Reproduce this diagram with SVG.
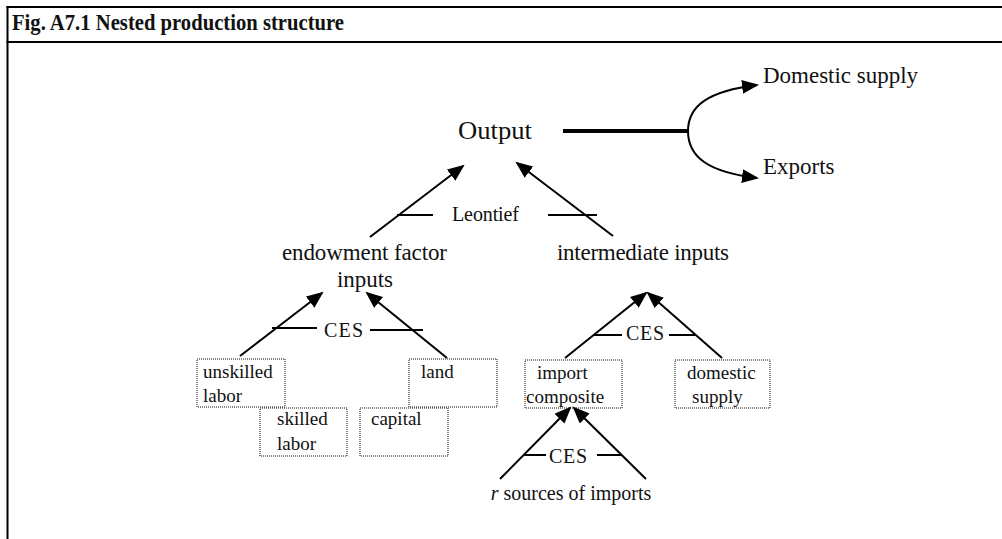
<svg xmlns="http://www.w3.org/2000/svg" width="1002" height="539" viewBox="0 0 1002 539">
<style>
text{font-family:"Liberation Serif","Times New Roman",serif;fill:#111}
.t{font-size:23px}
.s{font-size:20px}
.b{font-size:19px}
.ln{stroke:#000;stroke-width:2;fill:none}
.ar{stroke:#000;stroke-width:2;fill:none;marker-end:url(#ah)}
.box{fill:none;stroke:#111;stroke-width:1;stroke-dasharray:1 1}
</style>
<defs>
<marker id="ah" markerUnits="userSpaceOnUse" markerWidth="19" markerHeight="15" refX="15" refY="7" orient="auto">
<path d="M0,0 L17,7 L0,14 z" fill="#000"/>
</marker>
</defs>
<rect width="1002" height="539" fill="#fff"/>
<g id="frame">
<line x1="7.5" y1="6" x2="7.5" y2="539" stroke="#000" stroke-width="2"/>
<line x1="6.5" y1="7" x2="1002" y2="7" stroke="#000" stroke-width="2"/>
<line x1="6.5" y1="42" x2="1002" y2="42" stroke="#000" stroke-width="2"/>
<text x="12" y="30" font-size="22.5" font-weight="bold" textLength="332" lengthAdjust="spacingAndGlyphs">Fig. A7.1 Nested production structure</text>
</g>
<g id="connectors">
<line x1="563" y1="131" x2="688" y2="131" stroke="#000" stroke-width="4"/>
<path class="ar" d="M688,131 C688,106 708,91 757,85"/>
<path class="ar" d="M688,131 C688,157 708,172 757,178"/>
<line class="ar" x1="370" y1="237" x2="463" y2="166"/>
<line class="ar" x1="613" y1="236" x2="517" y2="163"/>
<line class="ar" x1="240" y1="356" x2="322" y2="293"/>
<line class="ar" x1="447" y1="358" x2="367" y2="293"/>
<line class="ar" x1="565" y1="358" x2="646" y2="293"/>
<line class="ar" x1="722" y1="358" x2="648" y2="293"/>
<line class="ar" x1="500" y1="479" x2="570" y2="408"/>
<line class="ar" x1="646" y1="479" x2="574" y2="408"/>
<line class="ln" x1="397" y1="215" x2="433" y2="215"/>
<line class="ln" x1="548" y1="215" x2="597" y2="215"/>
<line class="ln" x1="272" y1="328" x2="317" y2="328"/>
<line class="ln" x1="370" y1="330" x2="423" y2="330"/>
<line class="ln" x1="594" y1="335" x2="622" y2="335"/>
<line class="ln" x1="669" y1="335" x2="695" y2="335"/>
<line class="ln" x1="523" y1="455" x2="546" y2="455"/>
<line class="ln" x1="597" y1="455" x2="622" y2="455"/>
</g>
<g id="output"><text x="458" y="139" font-size="25" textLength="74" lengthAdjust="spacingAndGlyphs">Output</text></g>
<g id="domestic-supply-out"><text class="t" x="763" y="83" textLength="155">Domestic supply</text></g>
<g id="exports"><text class="t" x="763" y="174">Exports</text></g>
<g id="leontief"><text class="s" x="452" y="221" textLength="67">Leontief</text></g>
<g id="endowment"><text class="t" x="282" y="260" textLength="165">endowment factor</text><text class="t" x="337" y="287" textLength="56">inputs</text></g>
<g id="intermediate"><text class="t" x="557" y="260" textLength="172">intermediate inputs</text></g>
<g id="ces1"><text class="s" x="324" y="337" textLength="39">CES</text></g>
<g id="ces2"><text class="s" x="626" y="340" textLength="38">CES</text></g>
<g id="ces3"><text class="s" x="549" y="463" textLength="38">CES</text></g>
<g id="unskilled"><rect class="box" x="197" y="359" width="88" height="48"/><text class="b" x="203" y="378">unskilled</text><text class="b" x="203" y="402">labor</text></g>
<g id="land"><rect class="box" x="409" y="359" width="88" height="48"/><text class="b" x="421" y="378">land</text></g>
<g id="skilled"><rect class="box" x="260" y="408" width="87" height="48"/><text class="b" x="277" y="425">skilled</text><text class="b" x="277" y="450">labor</text></g>
<g id="capital"><rect class="box" x="360" y="408" width="88" height="48"/><text class="b" x="371" y="425">capital</text></g>
<g id="import-composite"><rect class="box" x="525" y="360" width="97" height="48"/><text class="b" x="537" y="379">import</text><text class="b" x="526" y="403">composite</text></g>
<g id="domestic-supply"><rect class="box" x="675" y="360" width="95" height="48"/><text class="b" x="687" y="379">domestic</text><text class="b" x="692" y="403">supply</text></g>
<g id="sources"><text x="571" y="500" font-size="20" text-anchor="middle"><tspan font-style="italic">r</tspan> sources of imports</text></g>
</svg>
